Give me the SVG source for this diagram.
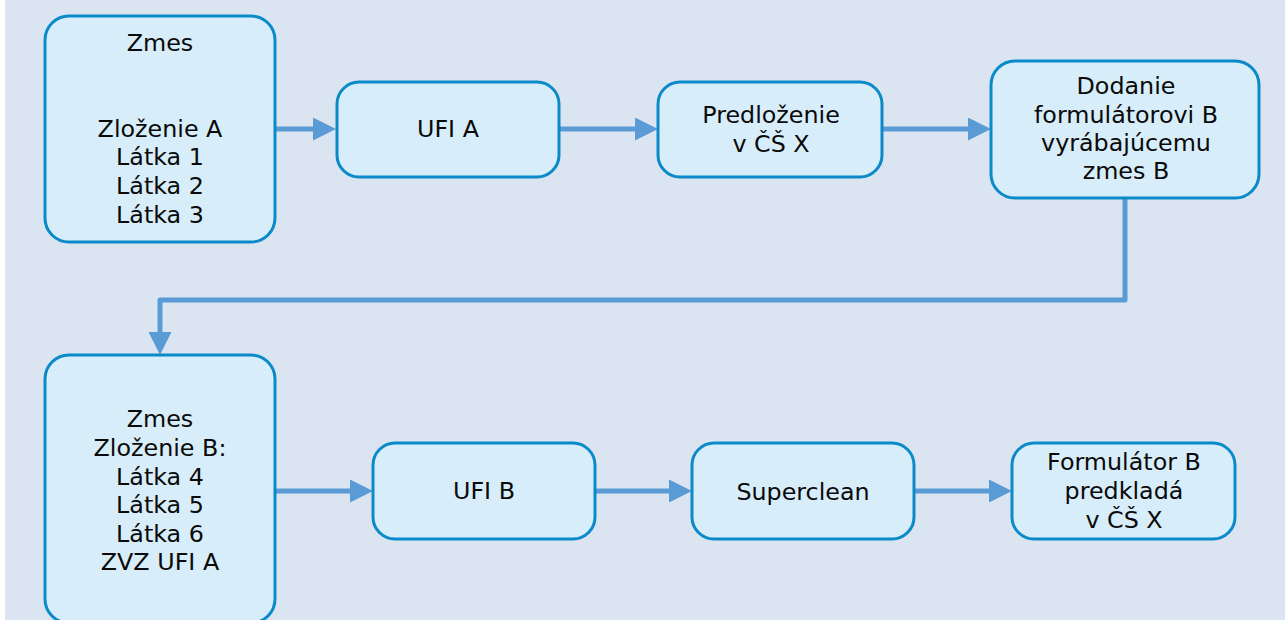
<svg xmlns="http://www.w3.org/2000/svg" width="1285" height="620" viewBox="0 0 1285 620">
  <defs>
    <style>
      .box { fill: #d7edf9; stroke: #0b8ac9; stroke-width: 3; }
      .lbl { font-family: "DejaVu Sans", Verdana, sans-serif; font-size: 23.8px; fill: #0a0a0a; text-anchor: middle; }
      .wire { fill: none; stroke: #5b9bd5; stroke-width: 5; stroke-linejoin: round; marker-end: url(#head); }
    </style>
    <marker id="head" viewBox="0 0 23 23" refX="11" refY="11.5" markerWidth="23" markerHeight="23" markerUnits="userSpaceOnUse" orient="auto">
      <path d="M0,0 L23,11.5 L0,23 Z" fill="#5b9bd5"/>
    </marker>
  </defs>

  <!-- page -->
  <rect x="0" y="0" width="1285" height="620" fill="#ffffff"/>
  <rect x="5" y="0" width="1280" height="620" fill="#dbe5f1"/>

  <!-- connectors -->
  <g id="connectors">
    <path class="wire" d="M275,129 H324"/>
    <path class="wire" d="M559,129 H646"/>
    <path class="wire" d="M882,129 H979"/>
    <path class="wire" d="M1125,198 V300 H160 V343"/>
    <path class="wire" d="M275,491 H361"/>
    <path class="wire" d="M595,491 H680"/>
    <path class="wire" d="M914,491 H1000"/>
  </g>

  <!-- upper row -->
  <g id="zmesA">
    <rect class="box" x="45" y="16" width="230" height="226" rx="24"/>
    <text class="lbl" x="160" y="51">Zmes</text>
    <text class="lbl" x="160" y="137">Zloženie A</text>
    <text class="lbl" x="160" y="165">Látka 1</text>
    <text class="lbl" x="160" y="194">Látka 2</text>
    <text class="lbl" x="160" y="223">Látka 3</text>
  </g>
  <g id="ufiA">
    <rect class="box" x="337" y="82" width="222" height="95" rx="22"/>
    <text class="lbl" x="448" y="137">UFI A</text>
  </g>
  <g id="predlozenie">
    <rect class="box" x="658" y="82" width="224" height="95" rx="22"/>
    <text class="lbl" x="771" y="123">Predloženie</text>
    <text class="lbl" x="771" y="152">v ČŠ X</text>
  </g>
  <g id="dodanie">
    <rect class="box" x="991" y="61" width="268" height="137" rx="24"/>
    <text class="lbl" x="1126" y="94">Dodanie</text>
    <text class="lbl" x="1126" y="123">formulátorovi B</text>
    <text class="lbl" x="1126" y="151">vyrábajúcemu</text>
    <text class="lbl" x="1126" y="179">zmes B</text>
  </g>

  <!-- lower row -->
  <g id="zmesB">
    <rect class="box" x="45" y="355" width="230" height="268" rx="24"/>
    <text class="lbl" x="160" y="427">Zmes</text>
    <text class="lbl" x="160" y="456">Zloženie B:</text>
    <text class="lbl" x="160" y="485">Látka 4</text>
    <text class="lbl" x="160" y="513">Látka 5</text>
    <text class="lbl" x="160" y="542">Látka 6</text>
    <text class="lbl" x="160" y="570">ZVZ UFI A</text>
  </g>
  <g id="ufiB">
    <rect class="box" x="373" y="443" width="222" height="96" rx="22"/>
    <text class="lbl" x="484" y="499">UFI B</text>
  </g>
  <g id="superclean">
    <rect class="box" x="692" y="443" width="222" height="96" rx="22"/>
    <text class="lbl" x="803" y="500">Superclean</text>
  </g>
  <g id="formulatorB">
    <rect class="box" x="1012" y="443" width="223" height="96" rx="22"/>
    <text class="lbl" x="1124" y="470">Formulátor B</text>
    <text class="lbl" x="1124" y="499">predkladá</text>
    <text class="lbl" x="1124" y="528">v ČŠ X</text>
  </g>
</svg>
